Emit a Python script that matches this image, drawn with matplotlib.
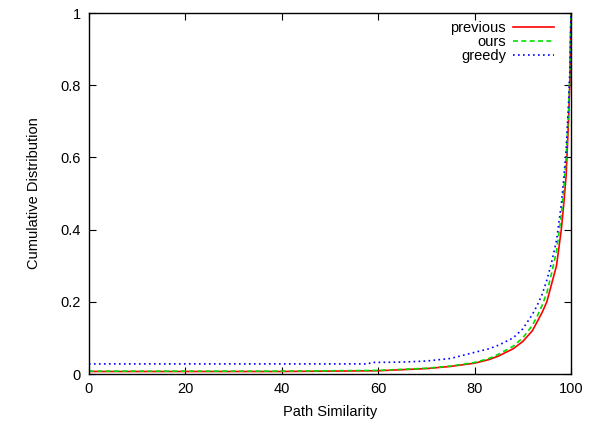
import matplotlib
matplotlib.use("Agg")
import matplotlib.pyplot as plt

x_prev = [0, 20, 40, 60, 65, 70, 75, 80, 83, 85, 88, 90, 92, 93, 94, 95, 96, 97, 98, 98.5, 99, 99.5, 99.8, 100]
y_prev = [0.007, 0.007, 0.007, 0.009, 0.012, 0.015, 0.021, 0.030, 0.040, 0.050, 0.070, 0.090, 0.120, 0.145, 0.170, 0.200, 0.250, 0.300, 0.400, 0.470, 0.550, 0.700, 0.820, 1.0]

x_ours = [0, 20, 40, 60, 65, 70, 75, 80, 83, 85, 88, 90, 92, 93, 94, 95, 96, 97, 98, 98.5, 99, 99.5, 99.8, 100]
y_ours = [0.008, 0.008, 0.008, 0.010, 0.013, 0.016, 0.022, 0.032, 0.043, 0.055, 0.077, 0.100, 0.135, 0.160, 0.190, 0.225, 0.280, 0.340, 0.440, 0.510, 0.600, 0.730, 0.840, 1.0]

x_greedy = [0, 20, 40, 58, 58.5, 65, 70, 75, 80, 83, 85, 88, 90, 92, 93, 94, 95, 96, 97, 98, 98.5, 99, 99.5, 99.8, 100]
y_greedy = [0.028, 0.028, 0.028, 0.028, 0.032, 0.033, 0.036, 0.043, 0.060, 0.070, 0.080, 0.100, 0.125, 0.165, 0.190, 0.220, 0.260, 0.310, 0.370, 0.470, 0.540, 0.620, 0.750, 0.850, 1.0]

x_ticks = [0, 20, 40, 60, 80, 100]
y_ticks = [0, 0.2, 0.4, 0.6, 0.8, 1]
y_tick_labels = ["0", "0.2", "0.4", "0.6", "0.8", "1"]

plt.rcParams['font.family'] = ['Liberation Sans', 'DejaVu Sans']
fig = plt.figure(figsize=(6.01, 4.21), dpi=100)
ax = fig.add_axes([0.148, 0.1116, 0.802, 0.8574])

ax.plot(x_prev, y_prev, color='#ff0000', lw=1.2, ls='-', label='previous')
ax.plot(x_ours, y_ours, color='#00e000', lw=1.2, ls=(0, (3, 2)), label='ours')
ax.plot(x_greedy, y_greedy, color='#0000ff', lw=1.2, ls=(0, (1, 2)), label='greedy')

ax.set_xlim(0, 100)
ax.set_ylim(0, 1)
ax.set_xticks(x_ticks)
ax.set_yticks(y_ticks)
ax.set_yticklabels(y_tick_labels)
ax.tick_params(direction='in', top=True, right=True, length=5, width=0.8, labelsize=10.5, pad=6)
for s in ax.spines.values():
    s.set_linewidth(1.0)

ax.set_xlabel('Path Similarity', fontsize=10.5, labelpad=6)
ax.set_ylabel('Cumulative Distribution', fontsize=10.5, labelpad=14)

ax.legend(loc='upper right', bbox_to_anchor=(0.965, 0.977), frameon=False, markerfirst=False,
          fontsize=10.5, handlelength=2.8, labelspacing=0.0, borderaxespad=0.0, borderpad=0.0,
          handletextpad=0.5)

fig.savefig('out.png', dpi=100)
